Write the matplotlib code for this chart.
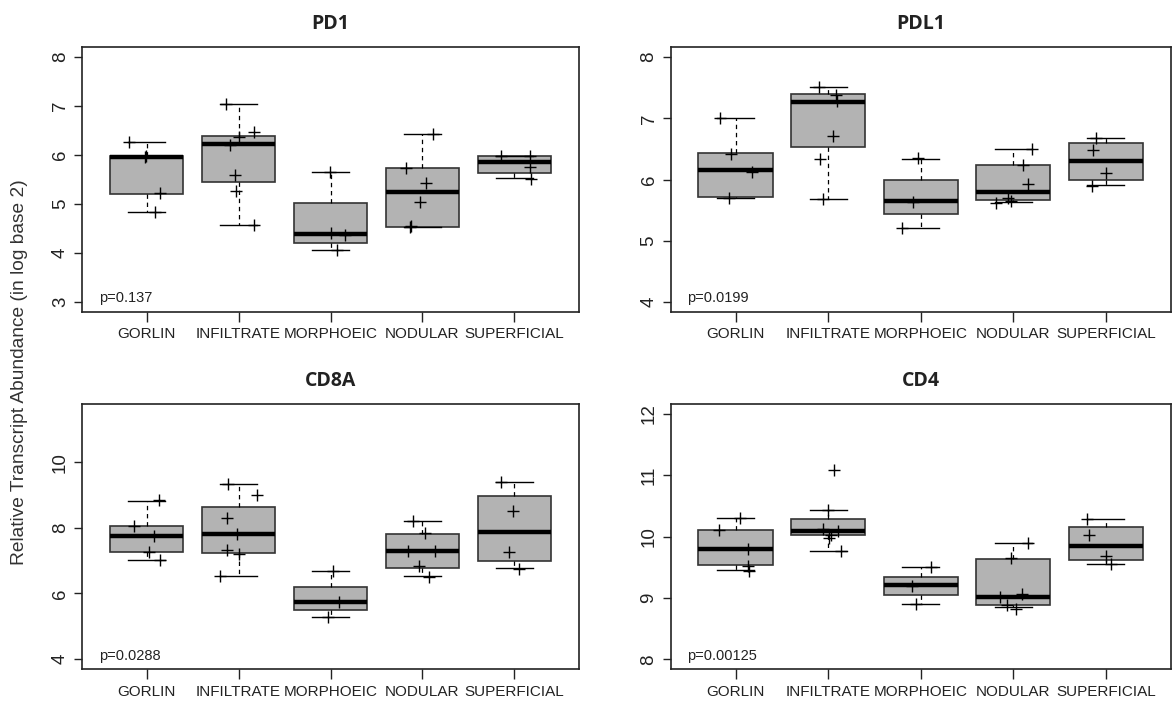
import matplotlib
matplotlib.use("Agg")
import matplotlib.pyplot as plt

plt.rcParams['font.family'] = ['Liberation Sans', 'DejaVu Sans']

groups = ['GORLIN', 'INFILTRATE', 'MORPHOEIC', 'NODULAR', 'SUPERFICIAL']

# box stats per group: [lower whisker, Q1, median, Q3, upper whisker]
pd1_stats = [[4.84, 5.21, 5.95, 5.99, 6.27],
             [4.57, 5.45, 6.22, 6.39, 7.05],
             [4.06, 4.21, 4.38, 5.03, 5.66],
             [4.53, 4.54, 5.25, 5.74, 6.42],
             [5.53, 5.63, 5.86, 5.97, 5.98]]
pd1_points = [[6.27, 5.99, 5.95, 5.22, 4.84],
              [7.05, 6.48, 6.37, 6.21, 5.60, 5.26, 4.57],
              [5.66, 4.40, 4.36, 4.06],
              [6.42, 5.74, 5.42, 5.05, 4.55, 4.52],
              [5.98, 5.98, 5.75, 5.52]]
pd1_jitter = [[-0.19, -0.01, -0.02, 0.14, 0.09],
              [-0.14, 0.17, 0.0, -0.09, -0.04, -0.03, 0.17],
              [-0.01, 0.0, 0.16, 0.07],
              [0.12, -0.18, 0.04, -0.03, -0.12, -0.14],
              [-0.15, 0.17, 0.17, 0.18]]

pdl1_stats = [[5.69, 5.72, 6.15, 6.44, 7.00],
              [5.68, 6.53, 7.27, 7.39, 7.51],
              [5.21, 5.43, 5.65, 6.00, 6.34],
              [5.63, 5.66, 5.80, 6.23, 6.50],
              [5.91, 6.00, 6.30, 6.59, 6.67]]
pdl1_points = [[7.00, 6.42, 6.13, 5.70],
               [7.51, 7.38, 7.28, 6.71, 6.33, 5.68],
               [6.35, 5.64, 5.21],
               [6.50, 6.23, 5.93, 5.69, 5.65, 5.62],
               [6.67, 6.49, 6.10, 5.90]]
pdl1_jitter = [[-0.17, -0.05, 0.18, -0.07],
               [-0.10, 0.09, 0.10, 0.05, -0.09, -0.06],
               [-0.03, -0.08, -0.20],
               [0.20, 0.10, 0.16, -0.06, -0.03, -0.19],
               [-0.11, -0.14, 0.0, -0.15]]

cd8a_stats = [[7.03, 7.26, 7.75, 8.06, 8.82],
              [6.52, 7.22, 7.80, 8.65, 9.33],
              [5.29, 5.49, 5.72, 6.20, 6.67],
              [6.52, 6.76, 7.30, 7.82, 8.22],
              [6.76, 6.99, 7.88, 8.96, 9.41]]
cd8a_points = [[8.85, 8.06, 7.75, 7.26, 7.02],
               [9.33, 9.00, 8.30, 7.80, 7.32, 7.20, 6.52],
               [6.67, 5.73, 5.29],
               [8.22, 7.83, 7.30, 7.30, 6.82, 6.51],
               [9.41, 8.50, 7.26, 6.74]]
cd8a_jitter = [[0.13, -0.14, 0.08, 0.03, 0.14],
               [-0.12, 0.20, -0.13, -0.02, -0.13, 0.01, -0.20],
               [0.03, 0.09, -0.03],
               [-0.10, 0.03, -0.16, 0.14, -0.04, 0.07],
               [-0.14, -0.02, -0.06, 0.05]]

cd4_stats = [[9.45, 9.54, 9.80, 10.11, 10.30],
             [9.77, 10.02, 10.10, 10.28, 10.44],
             [8.91, 9.05, 9.21, 9.34, 9.50],
             [8.85, 8.88, 9.02, 9.64, 9.89],
             [9.56, 9.62, 9.84, 10.15, 10.28]]
cd4_points = [[10.30, 10.11, 9.80, 9.53, 9.44],
              [11.09, 10.43, 10.13, 10.09, 10.02, 9.98, 9.77],
              [9.50, 9.20, 8.91],
              [9.89, 9.66, 9.07, 9.01, 8.88, 8.83],
              [10.28, 10.02, 9.69, 9.55]]
cd4_jitter = [[0.05, -0.18, 0.13, 0.13, 0.15],
              [0.06, 0.0, -0.05, 0.11, 0.03, 0.01, 0.14],
              [0.11, -0.09, -0.05],
              [0.16, -0.02, 0.09, -0.14, -0.07, 0.03],
              [-0.20, -0.18, 0.0, 0.05]]

panels = [
    ('PD1', pd1_stats, pd1_points, pd1_jitter, 'p=0.137', (2.8, 8.2), [3, 4, 5, 6, 7, 8]),
    ('PDL1', pdl1_stats, pdl1_points, pdl1_jitter, 'p=0.0199', (3.84, 8.16), [4, 5, 6, 7, 8]),
    ('CD8A', cd8a_stats, cd8a_points, cd8a_jitter, 'p=0.0288', (3.68, 11.78), [4, 6, 8, 10]),
    ('CD4', cd4_stats, cd4_points, cd4_jitter, 'p=0.00125', (7.84, 12.16), [8, 9, 10, 11, 12]),
]

W, H = 1175, 705
rects = [(82.3, 47.3, 578.7, 311.7), (670.7, 47.3, 1170.7, 311.7),
         (82.3, 404, 578.7, 669.3), (670.7, 404, 1170.7, 669.3)]

fig = plt.figure(figsize=(W / 100, H / 100), dpi=100)

for (title, stats, points, jit, ptxt, ylim, yticks), (x0, y0, x1, y1) in zip(panels, rects):
    ax = fig.add_axes([x0 / W, 1 - y1 / H, (x1 - x0) / W, (y1 - y0) / H])
    bxstats = [dict(whislo=s[0], q1=s[1], med=s[2], q3=s[3], whishi=s[4], label=g)
               for s, g in zip(stats, groups)]
    ax.bxp(bxstats, positions=range(1, 6), widths=0.8, capwidths=0.4,
           showfliers=False, patch_artist=True,
           boxprops=dict(facecolor='#b3b3b3', edgecolor='#333333', linewidth=1.2),
           medianprops=dict(color='black', linewidth=3.2, solid_capstyle='butt'),
           whiskerprops=dict(color='black', linewidth=0.9, linestyle=(0, (3.5, 3))),
           capprops=dict(color='black', linewidth=1.0))
    for i, (vals, offs) in enumerate(zip(points, jit)):
        ax.plot([i + 1 + o for o in offs], vals, '+', color='black',
                markersize=9, markeredgewidth=1.0, zorder=5)
    ax.set_xlim(0.3, 5.7)
    ax.set_ylim(*ylim)
    ax.set_yticks(yticks)
    ax.set_xticks(range(1, 6))
    ax.set_xticklabels(groups, fontsize=11)
    ax.tick_params(axis='x', length=7, width=1, pad=4, colors='#222222')
    ax.tick_params(axis='y', length=5.5, width=1, pad=4, labelsize=13.5, colors='#222222')
    for lab in ax.get_yticklabels():
        lab.set_rotation(90)
        lab.set_va('center')
    for sp in ax.spines.values():
        sp.set_linewidth(1.2)
        sp.set_color('#222222')
    ax.set_title(title, fontsize=14, fontweight='bold', family=['Open Sans', 'DejaVu Sans'],
                 pad=13, color='#222222')
    ax.text(0.033, 0.05, ptxt, transform=ax.transAxes, fontsize=10.5, color='#222222',
            va='center', ha='left')

fig.text(0.017, 0.4716, 'Relative Transcript Abundance (in log base 2)', rotation=90,
         ha='center', va='center', fontsize=13.8, color='#333333')

fig.savefig('out.png', dpi=100)
